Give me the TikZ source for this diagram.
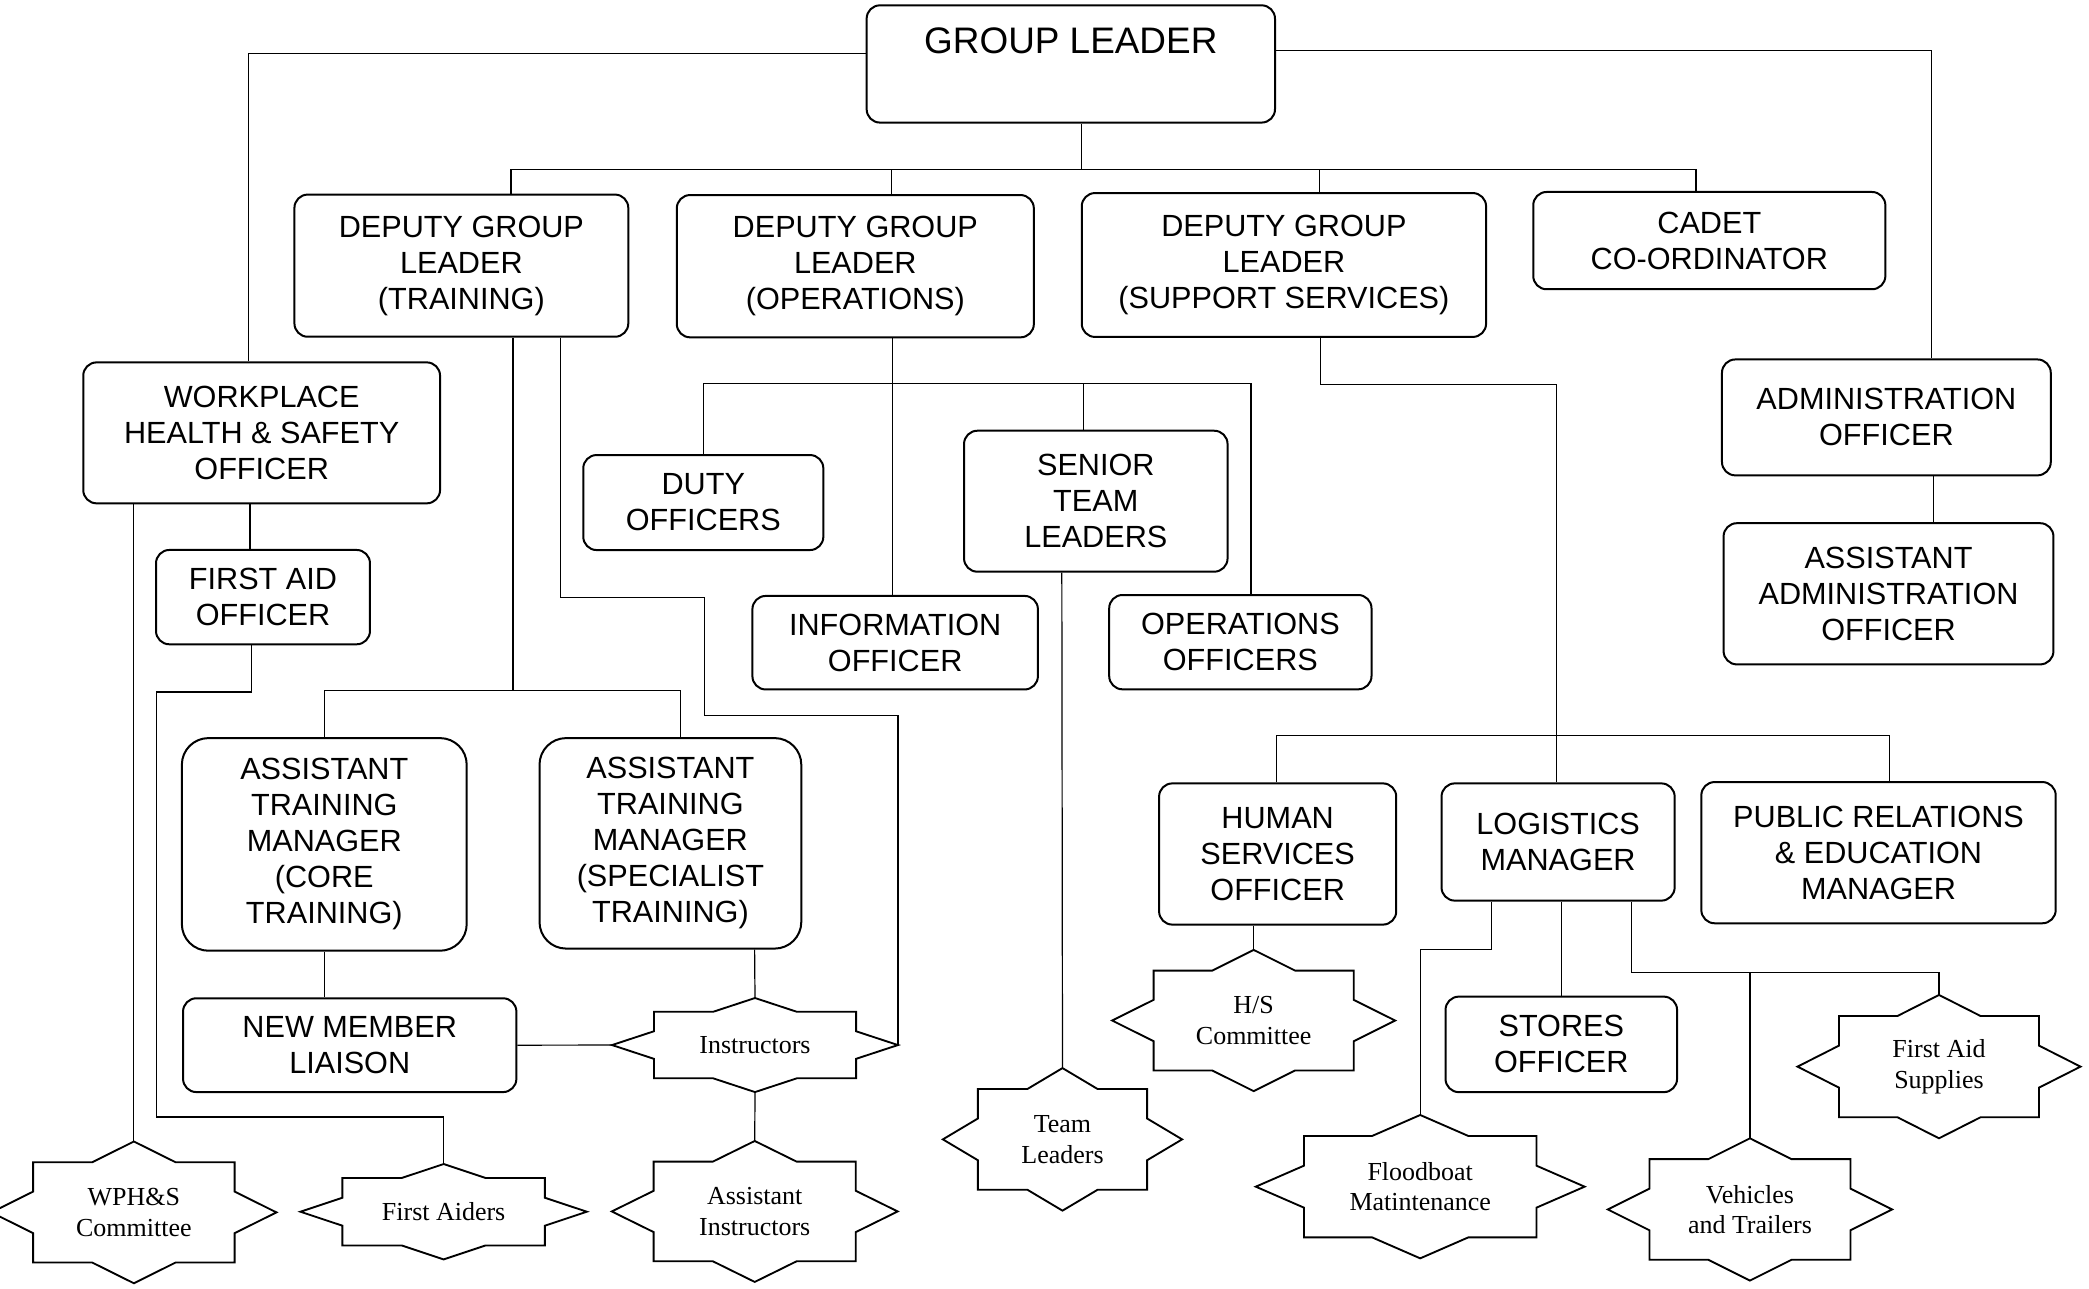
\documentclass[tikz,border=0pt]{standalone}
\usepackage{fontspec}
\newfontfamily\postfamily{Liberation Sans}
\newfontfamily\sealfamily{Liberation Serif}

\tikzstyle{post}=[draw, line width=1.5pt, rounded corners=10pt, inner sep=0pt, align=center,
  font=\postfamily\fontsize{23}{27}\selectfont]
\tikzstyle{seal}=[inner sep=0pt, align=center, font=\sealfamily\fontsize{19.5}{23}\selectfont]
\tikzstyle{link}=[line width=0.9pt]

% eight pointed star round a named node: #2 half width, #3 half height
\newcommand\sealframe[3]{%
  \draw[line width=1.4pt, shift={(#1)}]
    (#2,0) coordinate (#1-e) -- ({.707*#2},{.293*#3}) -- ({.707*#2},{.707*#3}) -- ({.293*#2},{.707*#3})
    -- (0,#3) coordinate (#1-s) -- ({-.293*#2},{.707*#3}) -- ({-.707*#2},{.707*#3}) -- ({-.707*#2},{.293*#3})
    -- (-#2,0) coordinate (#1-w) -- ({-.707*#2},{-.293*#3}) -- ({-.707*#2},{-.707*#3}) -- ({-.293*#2},{-.707*#3})
    -- (0,-#3) coordinate (#1-n) -- ({.293*#2},{-.707*#3}) -- ({.707*#2},{-.707*#3}) -- ({.707*#2},{-.293*#3})
    -- cycle;}

\begin{document}
\begin{tikzpicture}[x=1pt, y=-1pt]
\useasboundingbox (0,0) rectangle (1568,967);

\node [post, minimum width=306.5pt, minimum height=88pt, text height=20pt, text depth=36pt,
  font=\postfamily\fontsize{27.7}{32}\selectfont] (gl) at (803.75,48) {GROUP LEADER};

\node [post, minimum width=250.6pt, minimum height=106.7pt] (dglt) at (346.3,199.4) {DEPUTY GROUP\\LEADER\\(TRAINING)};
\node [post, minimum width=268pt, minimum height=106.8pt] (dglo) at (642,199.8) {DEPUTY GROUP\\LEADER\\(OPERATIONS)};
\node [post, minimum width=303.5pt, minimum height=108pt] (dgls) at (963.7,198.9) {DEPUTY GROUP\\LEADER\\(SUPPORT SERVICES)};
\node [post, minimum width=264.3pt, minimum height=73pt] (cadet) at (1283,180.6) {CADET\\CO-ORDINATOR};

\node [post, minimum width=267.8pt, minimum height=105.8pt] (whs) at (196.4,324.9) {WORKPLACE\\HEALTH \& SAFETY\\OFFICER};
\node [post, minimum width=160.6pt, minimum height=70.8pt] (fao) at (197.4,448.2) {FIRST AID\\OFFICER};
\node [post, minimum width=180.2pt, minimum height=71.3pt] (duty) at (527.9,377.2) {DUTY\\OFFICERS};
\node [post, minimum width=197.8pt, minimum height=105.8pt] (senior) at (822.5,376.2) {SENIOR\\TEAM\\LEADERS};
\node [post, minimum width=214.3pt, minimum height=70.2pt] (info) at (671.9,482.4) {INFORMATION\\OFFICER};
\node [post, minimum width=196.9pt, minimum height=70.8pt] (ops) at (931,482) {OPERATIONS\\OFFICERS};
\node [post, minimum width=246.8pt, minimum height=87pt] (admin) at (1415.9,313.3) {ADMINISTRATION\\OFFICER};
\node [post, minimum width=247.6pt, minimum height=106pt] (aadmin) at (1417.5,445.7) {ASSISTANT\\ADMINISTRATION\\OFFICER};

\node [post, rounded corners=20pt, minimum width=213.8pt, minimum height=159.6pt] (atmc) at (243.4,633.8) {ASSISTANT\\TRAINING\\MANAGER\\(CORE\\TRAINING)};
\node [post, rounded corners=20pt, minimum width=196.5pt, minimum height=158pt] (atms) at (503.2,633) {ASSISTANT\\TRAINING\\MANAGER\\(SPECIALIST\\TRAINING)};
\node [post, minimum width=250.2pt, minimum height=70.4pt] (nml) at (262.5,784.5) {NEW MEMBER\\LIAISON};
\node [post, minimum width=178pt, minimum height=106pt] (hso) at (959,641) {HUMAN\\SERVICES\\OFFICER};
\node [post, minimum width=175pt, minimum height=88pt] (log) at (1169.5,632) {LOGISTICS\\MANAGER};
\node [post, minimum width=266pt, minimum height=106pt] (pr) at (1410,640) {PUBLIC RELATIONS\\\& EDUCATION\\MANAGER};
\node [post, minimum width=173.8pt, minimum height=71.7pt] (stores) at (1171.9,783.9) {STORES\\OFFICER};

% stars
\node [seal] (wphs) at (100.5,910) {WPH\&S\\Committee}; \sealframe{wphs}{107}{53.2}
\node [seal] (faiders) at (333,909.5) {First Aiders}; \sealframe{faiders}{107.5}{35.8}
\node [seal] (instr) at (566.7,784.4) {Instructors}; \sealframe{instr}{107.3}{35.3}
\node [seal] (ainstr) at (566.5,909.3) {Assistant\\Instructors}; \sealframe{ainstr}{107.3}{52.9}
\node [seal] (teamldr) at (797.5,855.2) {Team\\Leaders}; \sealframe{teamldr}{89.8}{53.5}
\node [seal] (hscomm) at (941,766) {H/S\\Committee}; \sealframe{hscomm}{106.2}{53}
\node [seal] (flood) at (1066,890.7) {Floodboat\\Matintenance}; \sealframe{flood}{123.4}{53.8}
\node [seal] (vehicles) at (1313.5,907.8) {Vehicles\\and Trailers}; \sealframe{vehicles}{106.7}{53.4}
\node [seal] (fasupp) at (1455.4,800.6) {First Aid\\Supplies}; \sealframe{fasupp}{106.2}{53.8}

\coordinate (topbus) at (812,127);
\coordinate (trainbus) at (385,518.4);
\coordinate (opsbus) at (670,288);
\coordinate (supbus) at (1168,552);
\coordinate (logbus) at (1313.5,730.1);

% group leader
\draw [link] ([yshift=8pt]gl.west) -| ([xshift=-10pt]whs.north);
\draw [link] ([yshift=10pt]gl.east) -| ([xshift=33.6pt]admin.north);
\draw [link] ([xshift=8.25pt]gl.south) -- (topbus);
\draw [link] ([xshift=37.2pt]dglt.north) |- (topbus) -| ([xshift=-10pt]cadet.north);
\draw [link] ([xshift=27pt]dglo.north) |- (topbus);
\draw [link] ([xshift=26.8pt]dgls.north) |- (topbus);
\draw [link] ([xshift=35.1pt]admin.south) -- ([xshift=33.5pt]aadmin.north);

% health and safety
\draw [link] ([xshift=-95.9pt]whs.south) -- (wphs-n);
\draw [link] ([xshift=-8.8pt]whs.south) -- ([xshift=-9.8pt]fao.north);
\draw [link] ([xshift=-8.5pt]fao.south) -- ++(0,35) -- ++(-71.4,0)
        -- ++(0,319.1) -| (faiders-n);

% training
\draw [link] ([xshift=38.7pt]dglt.south) -- (trainbus);
\draw [link] (atmc.north) |- (trainbus) -| ([xshift=7.3pt]atms.north);
\draw [link] ([xshift=74.2pt]dglt.south) -- ++(0,194.8) -- ++(108,0)
        -- ++(0,88.5) -| (instr-e);
\draw [link] (atmc.south) -- ([xshift=-19.1pt]nml.north);
\draw [link] ([xshift=63.2pt]atms.south) -- (instr-n);
\draw [link] (nml.east) -- (instr-w);
\draw [link] (instr-s) -- (ainstr-n);

% operations
\draw [link] ([xshift=28pt]dglo.south) -- ([xshift=-1.9pt]info.north);
\draw [link] (duty.north) |- (opsbus) -| ([xshift=8pt]ops.north);
\draw [link] ([xshift=-9.5pt]senior.north) -- ++(0,-35.3);
\draw [link] ([xshift=-25.5pt]senior.south) -- (teamldr-n);

% support services
\draw [link] ([xshift=27.3pt]dgls.south) -- ++(0,35) -| (supbus);
\draw [link] ([xshift=-1pt]hso.north) |- (supbus) -| ([xshift=8pt]pr.north);
\draw [link] ([xshift=-1.5pt]log.north) -- (supbus);
\draw [link] ([xshift=-18pt]hso.south) -- (hscomm-n);
\draw [link] ([xshift=-49.8pt]log.south) -- ++(0,35.8) -| (flood-n);
\draw [link] ([xshift=2.4pt]log.south) -- (stores.north);
\draw [link] ([xshift=55.1pt]log.south) |- (logbus) -| (fasupp-n);
\draw [link] (vehicles-n) -- (logbus);

\end{tikzpicture}
\end{document}
